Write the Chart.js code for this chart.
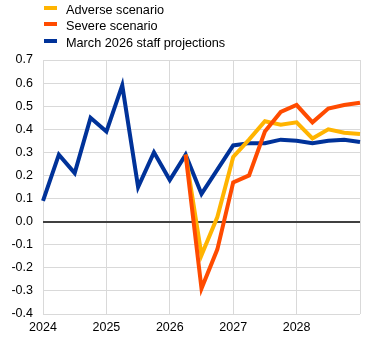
<!DOCTYPE html>
<html>
<head>
<meta charset="utf-8">
<script src="https://cdn.jsdelivr.net/npm/chart.js@4.4.1/dist/chart.umd.min.js"></script>
<style>
  body { margin: 0; background: #fff; }
  #wrap { position: relative; width: 366px; height: 343px; font-family: Arial, "Liberation Sans", sans-serif; }
  #legend { position: absolute; left: 0; top: 0; font-size: 12.7px; color: #000; }
  .item { position: absolute; left: 66px; white-space: nowrap; line-height: 16px; }
  .swatch { position: absolute; left: -22px; top: 4px; width: 13px; height: 4px; }
</style>
</head>
<body>
<div id="wrap">
  <canvas id="chart"></canvas>
  <div id="legend"></div>
</div>
<script>
// quarters, 2023Q4 .. 2028Q4
const quarters = ['2023Q4',
  '2024Q1', '2024Q2', '2024Q3', '2024Q4',
  '2025Q1', '2025Q2', '2025Q3', '2025Q4',
  '2026Q1', '2026Q2', '2026Q3', '2026Q4',
  '2027Q1', '2027Q2', '2027Q3', '2027Q4',
  '2028Q1', '2028Q2', '2028Q3', '2028Q4'];
const yearTicks = ['2024', '2025', '2026', '2027', '2028'];

const adverse = [null, null, null, null, null, null, null, null, null,
  0.29, -0.145, 0.02, 0.28, 0.355, 0.435, 0.42, 0.43, 0.36, 0.40, 0.385, 0.38];
const severe = [null, null, null, null, null, null, null, null, null,
  0.29, -0.29, -0.12, 0.17, 0.20, 0.39, 0.475, 0.505, 0.43, 0.49, 0.505, 0.515];
const staff = [0.09, 0.29, 0.21, 0.45, 0.39, 0.59, 0.15, 0.30, 0.18,
  0.29, 0.12, 0.225, 0.33, 0.34, 0.34, 0.355, 0.35, 0.34, 0.35, 0.355, 0.345];

const seriesNames = ['Adverse scenario', 'Severe scenario', 'March 2026 staff projections'];
const colors = ['#ffb400', '#ff4b00', '#003299'];

// legend in html, one entry per row
const legend = document.getElementById('legend');
seriesNames.forEach((name, i) => {
  const row = document.createElement('div');
  row.className = 'item';
  row.style.top = (1.5 + i * 16.6) + 'px';
  row.innerHTML = '<span class="swatch" style="background:' + colors[i] + '"></span>' + name;
  legend.appendChild(row);
});

const line = (label, data, color, order) => ({
  label, data, order,
  borderColor: color,
  backgroundColor: color,
  borderWidth: 4,
  pointRadius: 0,
  tension: 0,
  spanGaps: false,
});

const tickFont = { family: 'Arial, "Liberation Sans", sans-serif', size: 12.5 };

new Chart(document.getElementById('chart'), {
  type: 'line',
  data: {
    labels: quarters,
    datasets: [
      line(seriesNames[0], adverse, colors[0], 2),
      line(seriesNames[1], severe, colors[1], 1),
      line(seriesNames[2], staff, colors[2], 3),
    ],
  },
  options: {
    responsive: true,
    maintainAspectRatio: false,
    animation: false,
    layout: { padding: { top: 60, right: 4, bottom: 0, left: 0 } },
    plugins: { legend: { display: false }, tooltip: { enabled: false } },
    scales: {
      x: {
        offset: false,
        afterFit: (scale) => { scale.height = 29; },
        border: { display: false },
        grid: {
          drawTicks: false,
          color: (ctx) => (ctx.index % 4 === 0 ? '#d9d9d9' : 'rgba(0,0,0,0)'),
        },
        ticks: {
          autoSkip: false,
          maxRotation: 0,
          padding: 6,
          color: '#000',
          font: tickFont,
          callback: (v, i) => (i % 4 === 0 && yearTicks[i / 4]) ? yearTicks[i / 4] : '',
        },
      },
      y: {
        min: -0.4,
        max: 0.7,
        afterFit: (scale) => { scale.width = 43; },
        border: { display: false },
        grid: {
          drawTicks: false,
          color: (ctx) => (Math.abs(ctx.tick.value) < 1e-9 ? '#404040' : '#d9d9d9'),
          lineWidth: (ctx) => (Math.abs(ctx.tick.value) < 1e-9 ? 2 : 1),
        },
        ticks: {
          stepSize: 0.1,
          padding: 10,
          color: '#000',
          font: tickFont,
          callback: (v) => (Math.abs(v) < 1e-9 ? 0 : v).toFixed(1),
        },
      },
    },
  },
});
</script>
</body>
</html>
